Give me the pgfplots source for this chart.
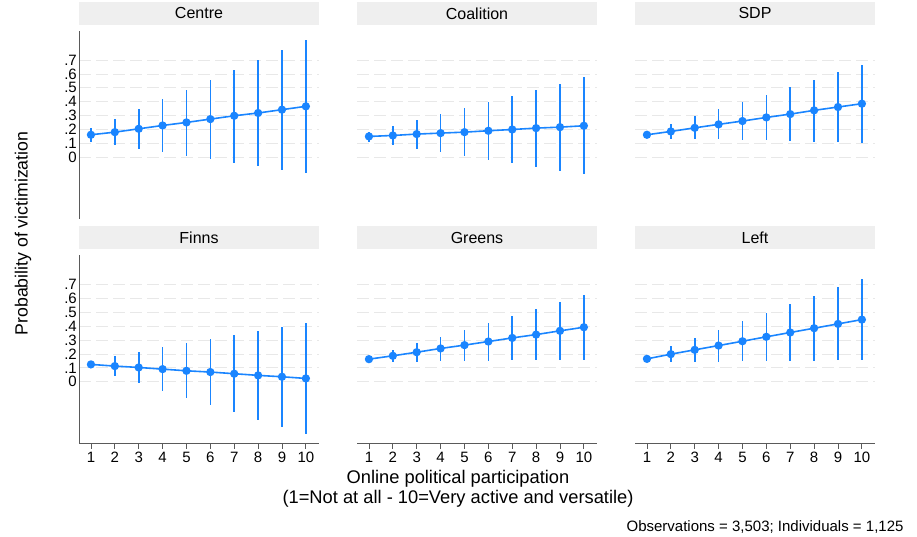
\documentclass[border=0pt]{standalone}
\usepackage{pgfplots}
\pgfplotsset{compat=1.18}
\usepackage{pgfplotstable}
\usepackage{fontspec}
\setmainfont{Liberation Sans}
\definecolor{stblue}{HTML}{1A85FF}
\definecolor{hdr}{HTML}{EFEFEF}
\definecolor{gridc}{HTML}{E8E8E8}
\definecolor{axc}{HTML}{5A5A5A}

\pgfplotstableread{
x y lo hi
1 0.162 0.113 0.210
2 0.181 0.089 0.278
3 0.205 0.063 0.348
4 0.229 0.039 0.418
5 0.251 0.012 0.488
6 0.275 -0.012 0.558
7 0.299 -0.039 0.630
8 0.319 -0.063 0.702
9 0.343 -0.089 0.775
10 0.367 -0.116 0.845
}\centre
\pgfplotstableread{
x y lo hi
1 0.150 0.113 0.179
2 0.157 0.087 0.222
3 0.167 0.060 0.266
4 0.174 0.036 0.309
5 0.181 0.010 0.355
6 0.191 -0.017 0.398
7 0.200 -0.043 0.444
8 0.210 -0.070 0.488
9 0.217 -0.097 0.531
10 0.227 -0.123 0.577
}\coalition
\pgfplotstableread{
x y lo hi
1 0.162 0.138 0.186
2 0.186 0.133 0.241
3 0.212 0.130 0.294
4 0.237 0.128 0.348
5 0.261 0.123 0.401
6 0.287 0.121 0.451
7 0.311 0.116 0.504
8 0.338 0.113 0.560
9 0.362 0.111 0.613
10 0.386 0.106 0.666
}\sdp
\pgfplotstableread{
x y lo hi
1 0.125 0.096 0.153
2 0.113 0.041 0.187
3 0.103 -0.012 0.216
4 0.091 -0.065 0.247
5 0.079 -0.115 0.276
6 0.070 -0.168 0.307
7 0.058 -0.221 0.336
8 0.046 -0.273 0.367
9 0.036 -0.324 0.396
10 0.024 -0.376 0.427
}\finns
\pgfplotstableread{
x y lo hi
1 0.163 0.144 0.180
2 0.187 0.144 0.230
3 0.213 0.146 0.276
4 0.240 0.149 0.326
5 0.264 0.151 0.376
6 0.290 0.153 0.427
7 0.316 0.156 0.477
8 0.340 0.156 0.527
9 0.367 0.158 0.578
10 0.393 0.158 0.628
}\greens
\pgfplotstableread{
x y lo hi
1 0.165 0.144 0.187
2 0.199 0.141 0.257
3 0.230 0.144 0.314
4 0.261 0.146 0.376
5 0.292 0.149 0.437
6 0.324 0.151 0.496
7 0.355 0.151 0.559
8 0.386 0.153 0.619
9 0.417 0.156 0.683
10 0.448 0.158 0.741
}\leftp

\pgfplotsset{
  panel/.style={
    scale only axis, width=240pt, height=188pt,
    xmin=0.5, xmax=10.55, ymin=-0.445, ymax=0.91,
    axis x line*=bottom, axis y line*=left,
    axis line style={draw=axc, line width=0.9pt, -},
    ytick={0,0.1,0.2,0.3,0.4,0.5,0.6,0.7},
    yticklabels={0,.1,.2,.3,.4,.5,.6,.7},
    ymajorgrids,
    grid style={gridc, line width=0.9pt, dash pattern=on 12pt off 5pt},
    xtick={1,2,3,4,5,6,7,8,9,10},
    tick align=outside,
    major tick length=5pt,
    ytick style={draw=none},
    xtick style={draw=axc, line width=0.8pt},
    tick label style={font=\fontsize{15}{17}\selectfont},
    yticklabel style={inner sep=0pt, xshift=3pt},
    /pgf/number format/assume math mode=true,
    title style={at={(0.5,1)}, anchor=south, fill=hdr, minimum width=240pt,
      minimum height=23pt, inner sep=0pt, yshift=0pt,
      font=\fontsize{16}{18}\selectfont},
  },
  toprow/.style={x axis line style={draw=none}, xticklabels={}, xtick style={draw=none}},
  notleft/.style={y axis line style={draw=none}, yticklabels={}},
}
\newcommand{\ciplot}[1]{%
  \addplot[stblue, line width=1.6pt, mark=*, mark size=3.3pt,
    mark options={solid, fill=stblue, draw=stblue},
    error bars/.cd, y dir=both, y explicit, error mark=none,
    error bar style={line width=1.6pt, stblue}]
    table[x=x, y=y, y error plus expr=\thisrow{hi}-\thisrow{y},
      y error minus expr=\thisrow{y}-\thisrow{lo}] {#1};}

\begin{document}
\begin{tikzpicture}
\path[use as bounding box] (0,0) rectangle (917pt,-537pt);

\begin{axis}[panel, toprow, at={(79pt,-219pt)}, anchor=south west, title={Centre}]
\ciplot{\centre}
\end{axis}
\begin{axis}[panel, toprow, notleft, at={(357pt,-219pt)}, anchor=south west, title={Coalition}]
\ciplot{\coalition}
\end{axis}
\begin{axis}[panel, toprow, notleft, at={(635pt,-219pt)}, anchor=south west, title={SDP}]
\ciplot{\sdp}
\end{axis}

\begin{axis}[panel, at={(79pt,-443.5pt)}, anchor=south west, title={Finns}]
\ciplot{\finns}
\end{axis}
\begin{axis}[panel, notleft, at={(357pt,-443.5pt)}, anchor=south west, title={Greens}]
\ciplot{\greens}
\end{axis}
\begin{axis}[panel, notleft, at={(635pt,-443.5pt)}, anchor=south west, title={Left}]
\ciplot{\leftp}
\end{axis}

\node[rotate=90, font=\fontsize{17.7}{20}\selectfont] at (23pt,-233.5pt) {Probability of victimization};
\node[anchor=base, font=\fontsize{18.3}{21}\selectfont] at (458pt,-483pt) {Online political participation};
\node[anchor=base, font=\fontsize{18.3}{21}\selectfont] at (458pt,-503pt) {(1=Not at all - 10=Very active and versatile)};
\node[anchor=base east, font=\fontsize{15}{17}\selectfont] at (907pt,-531pt) {Observations = 3,503; Individuals = 1,125};
\end{tikzpicture}
\end{document}
